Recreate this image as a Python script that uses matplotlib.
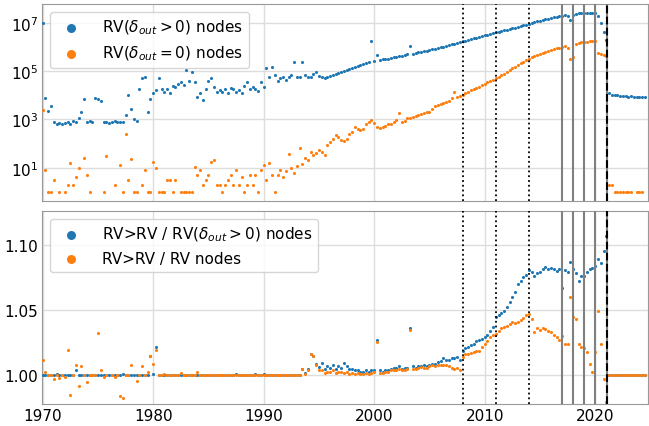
import numpy as np
import matplotlib.pyplot as plt
from matplotlib.ticker import NullLocator, FormatStrFormatter

nan = np.nan

# quarterly samples, 1970.0 .. 2024.5
years = np.arange(1970, 2024.6, 0.25)

# RV(d_out > 0) nodes
rv_out_pos = [
    1e7, 8e3, 2.2e3, 3.5e3,        # 1970
    750, 650, 700, 650,
    700, 800, 650, 900,
    750, 1.1e3, 2.1e3, 6.8e3,
    800, 900, 750, 8e3,
    7e3, 6e3, 750, 800,            # 1975
    700, 750, 900, 800,
    750, 800, 1.5e3, 1e4,
    2.8e3, 1e3, 900, 1.9e4,
    5.2e4, 6e4, 2e3, 7e3,
    1.2e4, 1.6e4, 5e4, 1.8e4,      # 1980
    1.4e4, 1.9e4, 1.2e4, 2.5e4,
    2.2e4, 3e4, 3.5e4, 2.6e4,
    1.1e5, 4e4, 9e4, 3.6e4,
    8.7e3, 1.2e4, 6.3e3, 1.9e4,
    4e4, 5e4, 2.2e4, 1.4e4,        # 1985
    1.6e4, 1.4e4, 1.9e4, 1.2e4,
    2e4, 1.9e4, 1.4e4, 1.6e4,
    1.3e4, 2.5e4, 3.6e4, 1.8e4,
    2.2e4, 1.9e4, 1.5e4, 3.5e4,
    2.2e4, 1.3e5, 6e4, 1.5e5,      # 1990
    6.8e4, 4e4, 5e4, 5.6e4,
    4.3e4, 5.8e4, 7e4, 2.5e5,
    5.6e4, 6e4, 2.3e5, 7e4,
    5.8e4, 6e4, 8e4, 9e4,
    6.6e4, 6e4, 5e4, 5.5e4,        # 1995
    6.3e4, 7e4, 7.5e4, 8.3e4,
    9e4, 1e5, 1.1e5, 1.2e5,
    1.3e5, 1.45e5, 1.6e5, 1.75e5,
    1.9e5, 2.1e5, 2.3e5, 1.7e6,
    2.6e5, 4.5e5, 2.9e5, 3.1e5,    # 2000
    3.2e5, 3.3e5, 3.5e5, 3.7e5,
    4e5, 4.2e5, 4.4e5, 4.7e5,
    5e5, 1.07e6, 5.4e5, 5.7e5,
    6e5, 6.3e5, 6.6e5, 6.9e5,
    7.5e5, 8e5, 8.5e5, 9e5,        # 2005
    9.8e5, 1.05e6, 1.1e6, 1.18e6,
    1.3e6, 1.4e6, 1.5e6, 1.6e6,
    1.75e6, 1.85e6, 2e6, 2.1e6,
    2.3e6, 2.45e6, 2.6e6, 2.8e6,
    3.1e6, 3.3e6, 3.5e6, 3.8e6,    # 2010
    4.2e6, 4.4e6, 4.6e6, 4.9e6,
    5.3e6, 5.7e6, 6e6, 6.3e6,
    7e6, 7.4e6, 7.9e6, 8.5e6,
    9.3e6, 1e7, 1.07e7, 1.15e7,
    1.25e7, 1.35e7, 1.45e7, 1.52e7,  # 2015
    1.6e7, 1.7e7, 1.8e7, 1.9e7,
    2e7, 2.1e7, 1.9e7, 1.3e7,
    2.2e7, 2.4e7, 2.5e7, 2.5e7,
    2.55e7, 2.5e7, 2.6e7, 2.55e7,
    2.6e7, 2e7, 1e7, 4.2e6,        # 2020
    1.9e6, 1.2e4, 1.05e4, 1e4,
    1e4, 9.5e3, 9e3, 9e3,
    8.7e3, 9e3, 8.5e3, 8.8e3,
    8.6e3, 8.8e3, 8.5e3,
]

# RV(d_out = 0) nodes
rv_out_zero = [
    2.4e3, 8, 1, 1,                # 1970
    3, nan, 1, nan,
    1, 2, 16, 2,
    4, 10, nan, 25,
    5, 1, nan, nan,
    nan, nan, 1, 30,               # 1975
    nan, nan, 2, nan,
    13, 1, 240, 3,
    22, 1, 1, nan,
    2, 8, 1, 1,
    18, 10, 1, 1,                  # 1980
    1, 3, 3, 1,
    3, nan, 1, 1,
    1, 1, 1, 11,
    5, 8, 2, 3,
    5, 18, 20, 2,                  # 1985
    2, 1, 2, 3,
    5, 2, 8, 2,
    4, 1, 2, 5,
    2, 5, 1, 8,
    13, 3, 15, 5,                  # 1990
    1, 5, 8, 4,
    7, 36, 10, 6,
    12, 63, 14, 25,
    20, 47, 35, 40,
    54, 45, 33, 90,                # 1995
    117, 160, 220, 180,
    140, 130, 160, 250,
    300, 500, 400, 360,
    400, 650, 800, 930,
    700, 500, 430, 480,            # 2000
    550, 620, 680, 800,
    950, 1.8e3, 800, 900,
    1.1e3, 1.2e3, 1.3e3, 1.4e3,
    1.6e3, 1.75e3, 1.9e3, 2e3,
    2.1e3, 2.8e3, 3.5e3, 4e3,      # 2005
    4.3e3, 4.8e3, 5.3e3, 5.8e3,
    7.4e3, 1.4e4, 8.5e3, 9e3,
    1e4, 1.2e4, 1.4e4, 1.6e4,
    1.8e4, 2e4, 2.2e4, 2.6e4,
    3e4, 3.4e4, 3.9e4, 4.3e4,      # 2010
    5e4, 6e4, 7e4, 8e4,
    9.5e4, 1.1e5, 1.3e5, 1.5e5,
    1.8e5, 2.1e5, 2.4e5, 2.8e5,
    3.3e5, 3.8e5, 4.3e5, 4.9e5,
    5.3e5, 5.8e5, 6.3e5, 7e5,      # 2015
    7.6e5, 8.3e5, 9e5, 9.5e5,
    1e6, 1.15e6, 9e5, 3.3e5,
    4e5, 1.4e6, 1.5e6, 1.55e6,
    1.6e6, 1.6e6, 1.7e6, 1.75e6,
    1.75e6, 5.9e5, 5e5, 4.6e5,     # 2020
    4.2e5, 2, 2, 1,
    1, 1, 1, 1,
    1, 1, nan, 1,
    1, 1, nan,
]

# RV>RV / RV(d_out > 0) nodes
ratio_out_pos = [
    1.0, 1.0, 1.0, 1.0,            # 1970
    1.0, 1.001, 1.0, 1.0,
    1.0, 1.0, 1.0, 1.0,
    1.004, 1.0, 1.0, 1.0,
    1.0, 1.0, 1.0, 1.0,
    1.0, 1.0, 1.0, 1.0,            # 1975
    1.0, 1.0, 1.0, 1.0,
    1.0, 1.001, 1.0, 1.0,
    1.0, 1.0, 1.0, 1.0,
    1.0, 1.0, 1.0, 1.015,
    1.001, 1.022, 1.0, 1.0,        # 1980
    1.0, 1.0, 1.0, 1.0,
    1.0, 1.0, 1.0, 1.0,
    1.0, 1.0, 1.0, 1.0,
    1.0, 1.0, 1.0, 1.0,
    1.0, 1.0, 1.0, 1.0,            # 1985
    1.0, 1.0, 1.0, 1.0,
    1.0, 1.0, 1.001, 1.0,
    1.0, 1.0, 1.0, 1.0,
    1.0, 1.001, 1.0, 1.0,
    1.001, 1.0, 1.0, 1.0,          # 1990
    1.0, 1.0, 1.0, 1.0,
    1.0, 1.0, 1.0, 1.0,
    1.0, 1.0, 1.005, 1.002,
    1.005, 1.016, 1.015, 1.009,
    1.0064, 1.0095, 1.005, 1.007,  # 1995
    1.006, 1.008, 1.005, 1.007,
    1.006, 1.0095, 1.007, 1.005,
    1.005, 1.0038, 1.004, 1.003,
    1.003, 1.004, 1.003, 1.004,
    1.0038, 1.027, 1.004, 1.003,   # 2000
    1.004, 1.004, 1.005, 1.006,
    1.006, 1.007, 1.005, 1.006,
    1.006, 1.0364, 1.007, 1.006,
    1.007, 1.0075, 1.008, 1.007,
    1.008, 1.009, 1.009, 1.010,    # 2005
    1.011, 1.0135, 1.012, 1.012,
    1.013, 1.013, 1.014, 1.012,
    1.019, 1.021, 1.022, 1.023,
    1.024, 1.026, 1.027, 1.028,
    1.029, 1.031, 1.034, 1.037,    # 2010
    1.0446, 1.046, 1.048, 1.0496,
    1.052, 1.056, 1.0598, 1.064,
    1.07, 1.072, 1.075, 1.077,
    1.0802, 1.079, 1.0763, 1.078,
    1.079, 1.081, 1.0827, 1.081,   # 2015
    1.082, 1.0814, 1.08, 1.081,
    1.067, 1.0802, 1.079, 1.0866,
    1.081, 1.078, 1.0725, 1.076,
    1.076, 1.079, 1.081, 1.082,
    1.084, 1.089, 1.086, 1.0954,   # 2020
    1.1069, 1.0, 1.0, 1.0,
    1.0, 1.0, 1.0, 1.0,
    1.0, 1.0, 1.0, 1.0,
    1.0, 1.0, 1.0,
]

# RV>RV / RV nodes
ratio_all = [
    1.0115, 1.003, 1.0, 1.0,       # 1970
    0.997, 1.0, 0.998, 1.0,
    0.999, 1.0196, 0.985, 1.0,
    1.008, 0.992, 1.0075, 1.0,
    0.995, 1.0, 1.0, 1.0,
    1.0323, 1.004, 0.999, 1.0,     # 1975
    0.977, 1.0, 0.999, 1.0,
    0.984, 0.983, 1.0, 1.0,
    1.008, 0.977, 0.996, 1.0,
    1.007, 1.0, 1.003, 1.0145,
    1.0084, 1.0196, 1.0, 1.0,      # 1980
    1.001, 1.0, 1.0, 1.0,
    1.0, 1.0, 1.002, 1.0,
    1.0, 1.0, 1.0, 1.0,
    1.003, 1.0, 1.0, 1.0,
    1.0, 1.0, 1.0, 1.0,            # 1985
    1.0, 1.0, 1.0, 1.0,
    1.0, 1.0, 1.0, 1.0,
    1.0, 1.0, 1.0, 1.0,
    1.0, 1.0, 1.0, 1.0,
    1.0, 1.0, 1.0, 1.0,            # 1990
    1.0, 1.0, 1.0, 1.0,
    1.0, 1.0, 1.0, 1.0,
    1.0, 1.0, 1.0046, 1.001,
    1.004, 1.016, 1.015, 1.008,
    1.0038, 1.004, 1.002, 1.003,   # 1995
    1.0025, 1.004, 1.002, 1.003,
    1.003, 1.002, 1.003, 1.001,
    1.002, 1.0013, 1.002, 1.001,
    1.001, 1.002, 1.001, 1.002,
    1.0025, 1.0255, 1.002, 1.002,  # 2000
    1.003, 1.003, 1.004, 1.0038,
    1.004, 1.005, 1.004, 1.004,
    1.005, 1.035, 1.005, 1.005,
    1.006, 1.0064, 1.006, 1.006,
    1.007, 1.0076, 1.007, 1.008,   # 2005
    1.008, 1.0076, 1.008, 1.007,
    1.006, 1.005, 1.006, 1.004,
    1.014, 1.016, 1.016, 1.017,
    1.018, 1.019, 1.019, 1.022,
    1.024, 1.026, 1.0293, 1.031,   # 2010
    1.032, 1.034, 1.036, 1.037,
    1.038, 1.039, 1.041, 1.040,
    1.041, 1.042, 1.044, 1.046,
    1.047, 1.0433, 1.033, 1.036,
    1.035, 1.036, 1.0357, 1.034,   # 2015
    1.033, 1.031, 1.0293, 1.027,
    1.0305, 1.024, 1.024, 1.0598,
    1.0446, 1.043, 1.024, 1.022,
    1.021, 1.018, 1.0084, 1.003,
    1.018, 1.0496, 1.024, 0.9975,  # 2020
    0.98, 1.0, 1.0, 1.0,
    1.0, 1.0, 1.0, 1.0,
    1.0, 1.0, 1.0, 1.0,
    1.0, 1.0, 1.0,
]

dotted_years = [2008, 2011, 2014]
solid_years = [2017, 2018, 2019, 2020]
dashed_year = 2021.08

plt.rcParams["font.size"] = 11

fig = plt.figure(figsize=(6.49, 4.27), dpi=100)
ax1 = fig.add_axes([0.065, 0.527, 0.933, 0.461])
ax2 = fig.add_axes([0.065, 0.051, 0.933, 0.452], sharex=ax1)

ax1.scatter(years, rv_out_pos, s=5, linewidths=0, color="tab:blue",
            label=r"RV($\delta_{out} > 0$) nodes", zorder=3)
ax1.scatter(years, rv_out_zero, s=5, linewidths=0, color="tab:orange",
            label=r"RV($\delta_{out} = 0$) nodes", zorder=3)
ax1.set_yscale("log")
ax1.set_ylim(0.42, 6e7)
ax1.set_yticks([1e1, 1e3, 1e5, 1e7])
ax1.yaxis.set_minor_locator(NullLocator())

ax2.scatter(years, ratio_out_pos, s=5, linewidths=0, color="tab:blue",
            label=r"RV>RV / RV($\delta_{out} > 0$) nodes", zorder=3)
ax2.scatter(years, ratio_all, s=5, linewidths=0, color="tab:orange",
            label="RV>RV / RV nodes", zorder=3)
ax2.set_ylim(0.978, 1.1255)
ax2.set_yticks([1.0, 1.05, 1.10])
ax2.yaxis.set_major_formatter(FormatStrFormatter("%.2f"))

ax1.set_xlim(1969.95, 2024.75)
ax2.set_xticks([1970, 1980, 1990, 2000, 2010, 2020])

for ax in (ax1, ax2):
    ax.grid(True, color="#dddddd", linewidth=1, zorder=0)
    ax.set_axisbelow(True)
    for sp in ax.spines.values():
        sp.set_color("#999999")
    ax.tick_params(length=0, pad=3)
    for x in dotted_years:
        ax.axvline(x, color="black", linestyle=":", linewidth=1.3, zorder=4)
    for x in solid_years:
        ax.axvline(x, color="gray", linestyle="-", linewidth=1.5, zorder=4)
    ax.axvline(dashed_year, color="gray", linestyle="-", linewidth=1.5, zorder=4)
    ax.axvline(dashed_year, color="black", linestyle="--", linewidth=1.5, zorder=5)
    ax.legend(loc="upper left", markerscale=2.9, handletextpad=1.0)

ax1.tick_params(labelbottom=False)

fig.savefig("out.png", dpi=100)
